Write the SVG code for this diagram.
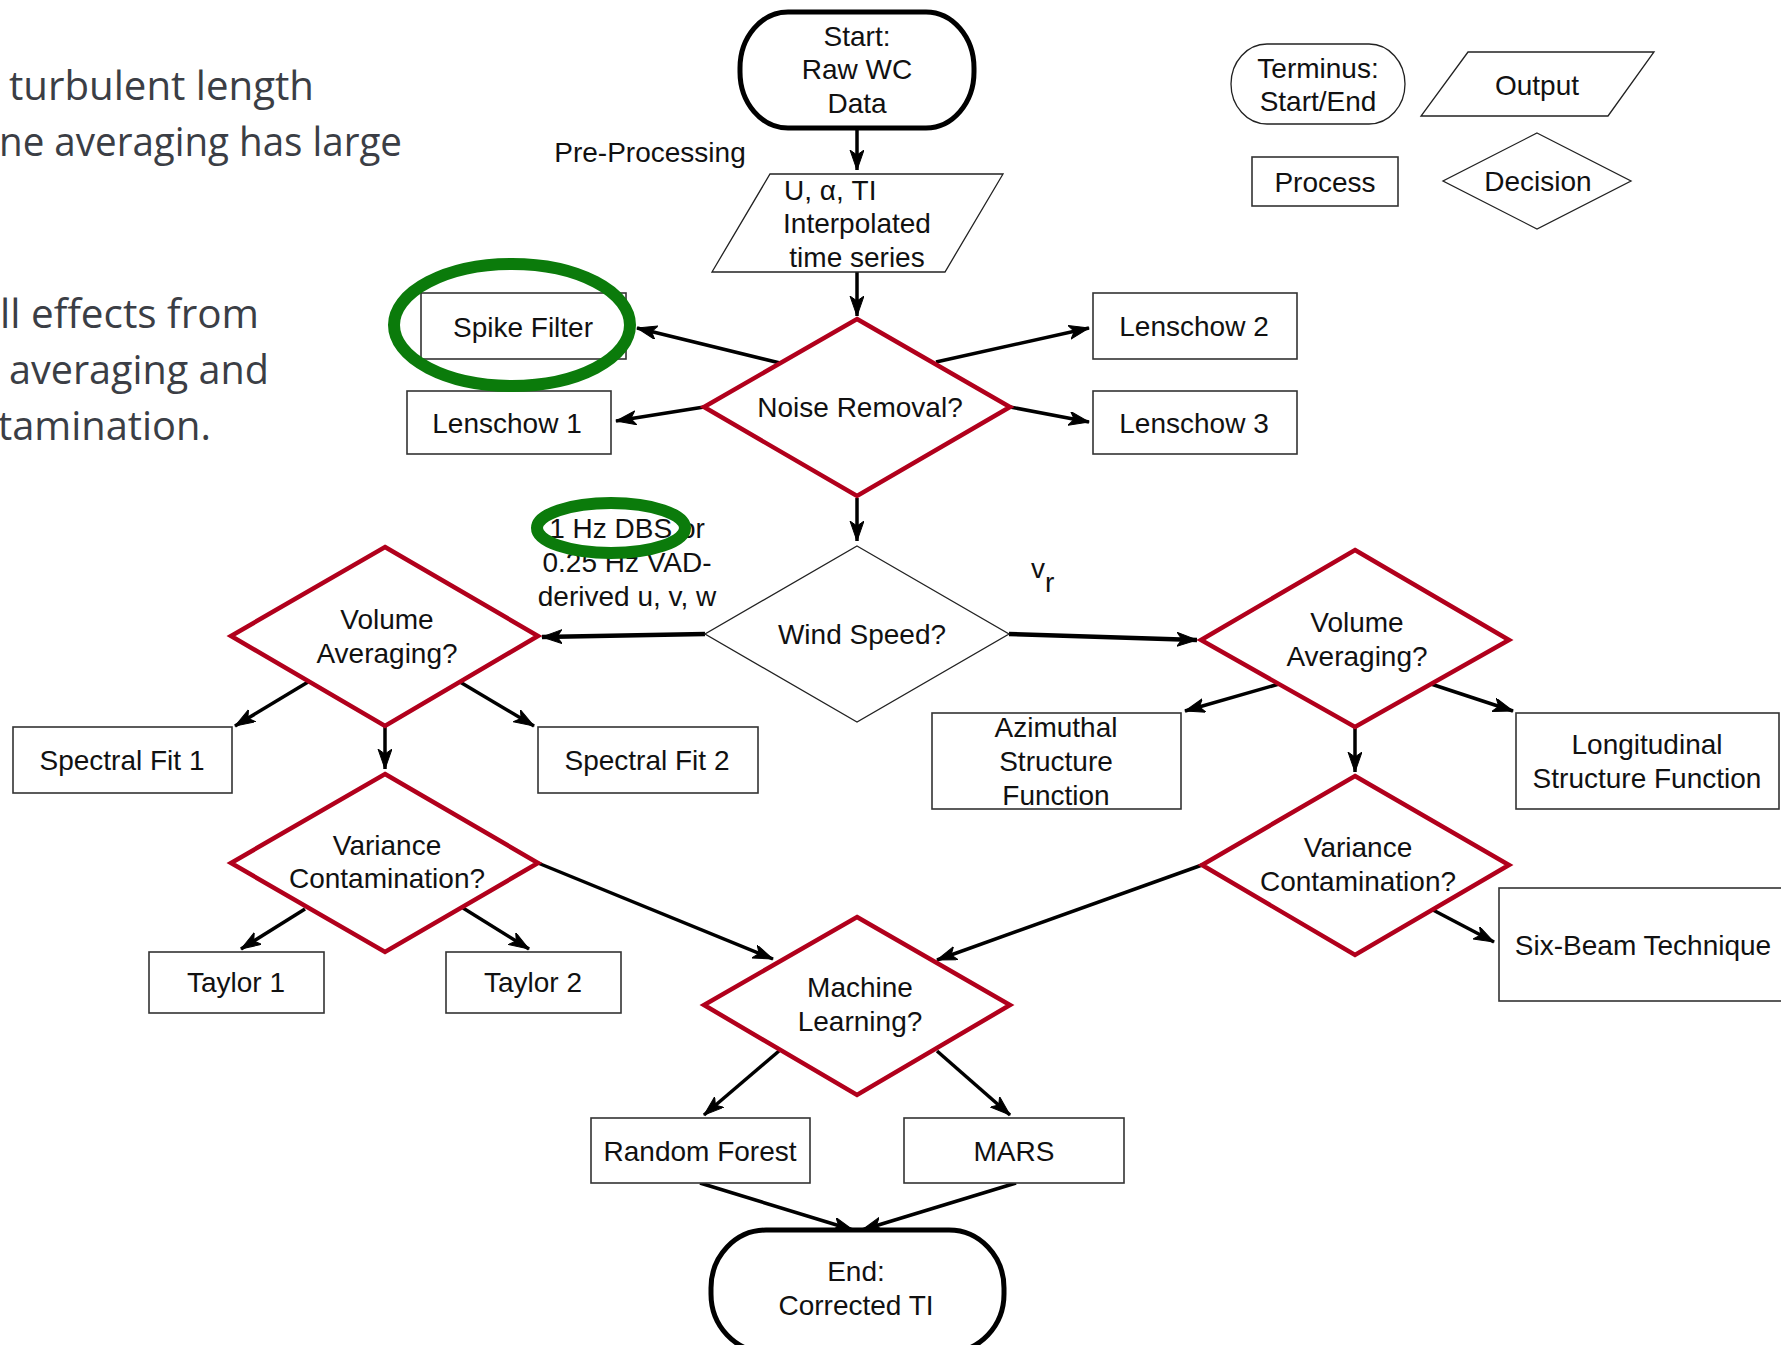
<svg xmlns="http://www.w3.org/2000/svg" width="1781" height="1345" viewBox="0 0 1781 1345">
<style>
.t{font-family:"Liberation Sans",Arial,sans-serif;font-size:28px;fill:#111;text-anchor:middle}
.sl{font-family:"Open Sans","Lato",sans-serif;font-size:41px;fill:#3b3e45}
.box{fill:#fff;stroke:#333;stroke-width:1.6}
.dec{fill:#fff;stroke:#b1001c;stroke-width:4.5;stroke-linejoin:miter}
.thin{fill:#fff;stroke:#222;stroke-width:1.3}
.term{fill:#fff;stroke:#000;stroke-width:5}
.hl{fill:none;stroke:#0b7b0b;stroke-width:12}
.c line{stroke:#000;stroke-width:3.5;marker-end:url(#ah)}
</style>
<defs>
<marker id="ah" markerUnits="userSpaceOnUse" markerWidth="22" markerHeight="16" refX="20" refY="7" orient="auto" viewBox="0 0 22 16">
<path d="M0,0 L20,7 L0,14 L5,7 z" fill="#000" stroke="#000" stroke-width="1" stroke-linejoin="round"/>
</marker>
</defs>
<rect width="1781" height="1345" fill="#fff"/>

<g id="slide-text">
<text class="sl" x="9" y="100" textLength="305" lengthAdjust="spacingAndGlyphs">turbulent length</text>
<text class="sl" x="-1" y="156" textLength="403" lengthAdjust="spacingAndGlyphs">ne averaging has large</text>
<text class="sl" x="0" y="328" textLength="259" lengthAdjust="spacingAndGlyphs">ll effects from</text>
<text class="sl" x="9" y="384" textLength="260" lengthAdjust="spacingAndGlyphs">averaging and</text>
<text class="sl" x="-2" y="440" textLength="213" lengthAdjust="spacingAndGlyphs">tamination.</text>
</g>

<g id="connectors" class="c">
<line x1="857" y1="128" x2="857" y2="170"/>
<line x1="857" y1="272" x2="857" y2="316"/>
<line x1="780" y1="363" x2="637" y2="328"/>
<line x1="704" y1="407" x2="616" y2="421"/>
<line x1="936" y1="362" x2="1089" y2="328"/>
<line x1="1010" y1="407" x2="1089" y2="422"/>
<line x1="857" y1="498" x2="857" y2="541"/>
<line x1="705" y1="634" x2="542" y2="637" style="stroke-width:4.5"/>
<line x1="1009" y1="634" x2="1197" y2="640" style="stroke-width:4.5"/>
<line x1="308" y1="682" x2="235" y2="726"/>
<line x1="385" y1="726" x2="385" y2="769"/>
<line x1="460" y1="682" x2="534" y2="726"/>
<line x1="305" y1="909" x2="241" y2="949"/>
<line x1="463" y1="908" x2="529" y2="949"/>
<line x1="538" y1="863" x2="773" y2="959"/>
<line x1="1279" y1="684" x2="1185" y2="711"/>
<line x1="1431" y1="684" x2="1513" y2="711"/>
<line x1="1355" y1="727" x2="1355" y2="772"/>
<line x1="1202" y1="865" x2="937" y2="960"/>
<line x1="1433" y1="910" x2="1494" y2="942"/>
<line x1="779" y1="1051" x2="704" y2="1115"/>
<line x1="937" y1="1051" x2="1010" y2="1115"/>
<line x1="700" y1="1183" x2="853" y2="1230"/>
<line x1="1016" y1="1183" x2="862" y2="1230"/>
</g>

<g id="start">
<rect class="term" x="740" y="12" width="234" height="116" rx="48" ry="56"/>
<text class="t" x="857" y="46">Start:</text>
<text class="t" x="857" y="79">Raw WC</text>
<text class="t" x="857" y="113">Data</text>
</g>
<g id="preprocessing-label"><text class="t" x="650" y="162">Pre-Processing</text></g>
<g id="interp">
<polygon class="thin" points="770,174 1003,174 945,272 712,272"/>
<text class="t" x="784" y="200" style="text-anchor:start">U, α, TI</text>
<text class="t" x="857" y="233">Interpolated</text>
<text class="t" x="857" y="267">time series</text>
</g>
<g id="legend-terminus">
<rect class="thin" x="1231" y="44" width="174" height="80" rx="36" ry="40"/>
<text class="t" x="1318" y="78">Terminus:</text>
<text class="t" x="1318" y="111">Start/End</text>
</g>
<g id="legend-output">
<polygon class="thin" points="1468,52 1654,52 1608,116 1421,116"/>
<text class="t" x="1537" y="95">Output</text>
</g>
<g id="legend-process">
<rect class="box" x="1252" y="157" width="146" height="49"/>
<text class="t" x="1325" y="192">Process</text>
</g>
<g id="legend-decision">
<polygon class="thin" points="1537,133 1631,181 1537,229 1443,181"/>
<text class="t" x="1538" y="191">Decision</text>
</g>

<g id="noise-removal">
<polygon class="dec" points="857,319 1010,407 857,496 704,407"/>
<text class="t" x="860" y="417">Noise Removal?</text>
</g>
<g id="spike-filter">
<rect class="box" x="421" y="293" width="205" height="66"/>
<text class="t" x="523" y="337">Spike Filter</text>
</g>
<g id="lenschow1">
<rect class="box" x="407" y="391" width="204" height="63"/>
<text class="t" x="507" y="433">Lenschow 1</text>
</g>
<g id="lenschow2">
<rect class="box" x="1093" y="293" width="204" height="66"/>
<text class="t" x="1194" y="336">Lenschow 2</text>
</g>
<g id="lenschow3">
<rect class="box" x="1093" y="391" width="204" height="63"/>
<text class="t" x="1194" y="433">Lenschow 3</text>
</g>

<g id="wind-speed">
<polygon class="thin" points="857,546 1009,634 857,722 705,634"/>
<text class="t" x="862" y="644">Wind Speed?</text>
</g>
<g id="dbs-label">
<text class="t" x="627" y="538">1 Hz DBS or</text>
<text class="t" x="627" y="572">0.25 Hz VAD-</text>
<text class="t" x="627" y="606">derived u, v, w</text>
</g>
<g id="vr-label"><text class="t" x="1031" y="578" style="text-anchor:start">v<tspan dy="14">r</tspan></text></g>

<g id="volume-left">
<polygon class="dec" points="385,547 538,636 385,726 231,636"/>
<text class="t" x="387" y="629">Volume</text>
<text class="t" x="387" y="663">Averaging?</text>
</g>
<g id="spectral1">
<rect class="box" x="13" y="727" width="219" height="66"/>
<text class="t" x="122" y="770">Spectral Fit 1</text>
</g>
<g id="spectral2">
<rect class="box" x="538" y="727" width="220" height="66"/>
<text class="t" x="647" y="770">Spectral Fit 2</text>
</g>
<g id="variance-left">
<polygon class="dec" points="385,774 538,863 385,952 231,863"/>
<text class="t" x="387" y="855">Variance</text>
<text class="t" x="387" y="888">Contamination?</text>
</g>
<g id="taylor1">
<rect class="box" x="149" y="952" width="175" height="61"/>
<text class="t" x="236" y="992">Taylor 1</text>
</g>
<g id="taylor2">
<rect class="box" x="446" y="952" width="175" height="61"/>
<text class="t" x="533" y="992">Taylor 2</text>
</g>

<g id="volume-right">
<polygon class="dec" points="1355,550 1509,640 1355,727 1201,640"/>
<text class="t" x="1357" y="632">Volume</text>
<text class="t" x="1357" y="666">Averaging?</text>
</g>
<g id="azimuthal">
<rect class="box" x="932" y="713" width="249" height="96"/>
<text class="t" x="1056" y="737">Azimuthal</text>
<text class="t" x="1056" y="771">Structure</text>
<text class="t" x="1056" y="805">Function</text>
</g>
<g id="longitudinal">
<rect class="box" x="1516" y="713" width="263" height="96"/>
<text class="t" x="1647" y="754">Longitudinal</text>
<text class="t" x="1647" y="788">Structure Function</text>
</g>
<g id="variance-right">
<polygon class="dec" points="1355,776 1509,865 1355,955 1202,865"/>
<text class="t" x="1358" y="857">Variance</text>
<text class="t" x="1358" y="891">Contamination?</text>
</g>
<g id="six-beam">
<rect class="box" x="1499" y="888" width="300" height="113"/>
<text class="t" x="1643" y="955">Six-Beam Technique</text>
</g>

<g id="machine-learning">
<polygon class="dec" points="857,917 1010,1005 857,1095 704,1005"/>
<text class="t" x="860" y="997">Machine</text>
<text class="t" x="860" y="1031">Learning?</text>
</g>
<g id="random-forest">
<rect class="box" x="591" y="1118" width="219" height="65"/>
<text class="t" x="700" y="1161">Random Forest</text>
</g>
<g id="mars">
<rect class="box" x="904" y="1118" width="220" height="65"/>
<text class="t" x="1014" y="1161">MARS</text>
</g>
<g id="end">
<rect class="term" x="711" y="1230" width="293" height="122" rx="55" ry="58"/>
<text class="t" x="856" y="1281">End:</text>
<text class="t" x="856" y="1315">Corrected TI</text>
</g>

<g id="highlights">
<ellipse class="hl" cx="512" cy="325" rx="118" ry="61"/>
<ellipse class="hl" cx="611" cy="528" rx="74" ry="25"/>
</g>
</svg>
